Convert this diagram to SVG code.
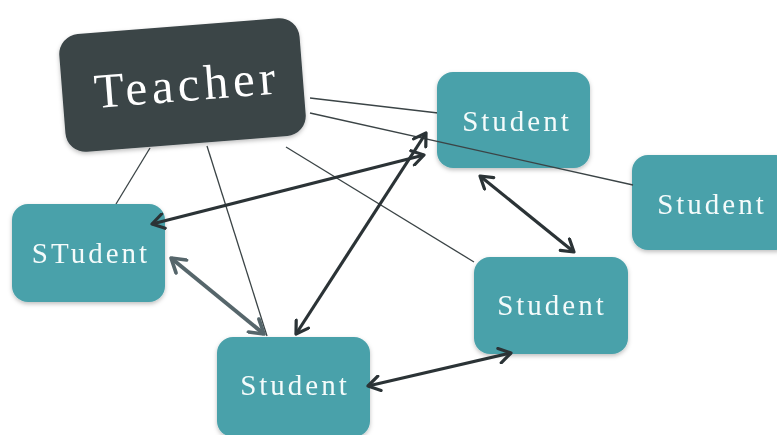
<svg xmlns="http://www.w3.org/2000/svg" width="777" height="435" viewBox="0 0 777 435">
<defs>
<style>
.student rect{fill:#4aa1aa;}
.student text{fill:#f4fbfb;font-family:"Liberation Serif",serif;font-size:29px;letter-spacing:3px;text-anchor:middle;}
.thin{stroke:#3b4446;stroke-width:1.3;fill:none;}
.arr{stroke:#2b3336;stroke-width:3.2;fill:none;marker-start:url(#ah);marker-end:url(#ah);}
.arrg{stroke:#56666b;stroke-width:4;fill:none;marker-start:url(#ahg);marker-end:url(#ahg);}
</style>
<marker id="ah" viewBox="0 0 12 12" refX="10" refY="6" markerWidth="5.5" markerHeight="5.5" orient="auto-start-reverse" markerUnits="strokeWidth">
<path d="M2,1 L10,6 L2,11" fill="none" stroke="#2b3336" stroke-width="2.2" stroke-linecap="round" stroke-linejoin="round"/>
</marker>
<marker id="ahg" viewBox="0 0 12 12" refX="10" refY="6" markerWidth="5" markerHeight="5" orient="auto-start-reverse" markerUnits="strokeWidth">
<path d="M2,1 L10,6 L2,11" fill="none" stroke="#56666b" stroke-width="2.2" stroke-linecap="round" stroke-linejoin="round"/>
</marker>
<filter id="sh" x="-10%" y="-10%" width="120%" height="130%">
<feDropShadow dx="0" dy="2" stdDeviation="2" flood-color="#000" flood-opacity="0.25"/>
</filter>
</defs>
<rect width="777" height="435" fill="#ffffff"/>
<g id="connectors-under">
<line class="thin" x1="116" y1="204" x2="150" y2="148"/>
<line class="thin" x1="267" y1="336" x2="207" y2="146"/>
<line class="thin" x1="286" y1="147" x2="474" y2="262"/>
<line class="thin" x1="310" y1="98" x2="438" y2="113"/>
</g>
<g id="teacher" filter="url(#sh)">
<rect x="62" y="26" width="241" height="118" rx="20" fill="#3a4447" transform="rotate(-4.5 183 85)"/>
<text x="187" y="101" transform="rotate(-4.5 183 85)" fill="#ffffff" font-family="Liberation Serif, serif" font-size="49" letter-spacing="4.5" text-anchor="middle">Teacher</text>
</g>
<g id="student1" class="student" filter="url(#sh)">
<rect x="437" y="72" width="153" height="96" rx="16"/>
<text x="517" y="131">Student</text>
</g>
<g id="student2" class="student" filter="url(#sh)">
<rect x="632" y="155" width="160" height="95" rx="16"/>
<text x="712" y="214">Student</text>
</g>
<g id="student3" class="student" filter="url(#sh)">
<rect x="12" y="204" width="153" height="98" rx="16"/>
<text x="91" y="263">STudent</text>
</g>
<g id="student4" class="student" filter="url(#sh)">
<rect x="474" y="257" width="154" height="97" rx="16"/>
<text x="552" y="315">Student</text>
</g>
<g id="student5" class="student" filter="url(#sh)">
<rect x="217" y="337" width="153" height="100" rx="16"/>
<text x="295" y="395">Student</text>
</g>
<g id="connectors">
<line class="thin" x1="310" y1="113" x2="633" y2="185"/>
<line class="arr" x1="152" y1="224" x2="424" y2="155"/>
<line class="arr" x1="296" y1="334" x2="426" y2="133"/>
<line class="arrg" x1="171" y1="258" x2="264" y2="334"/>
<line class="arr" x1="480" y1="176" x2="574" y2="252"/>
<line class="arr" x1="368" y1="386" x2="511" y2="353"/>
</g>
</svg>
